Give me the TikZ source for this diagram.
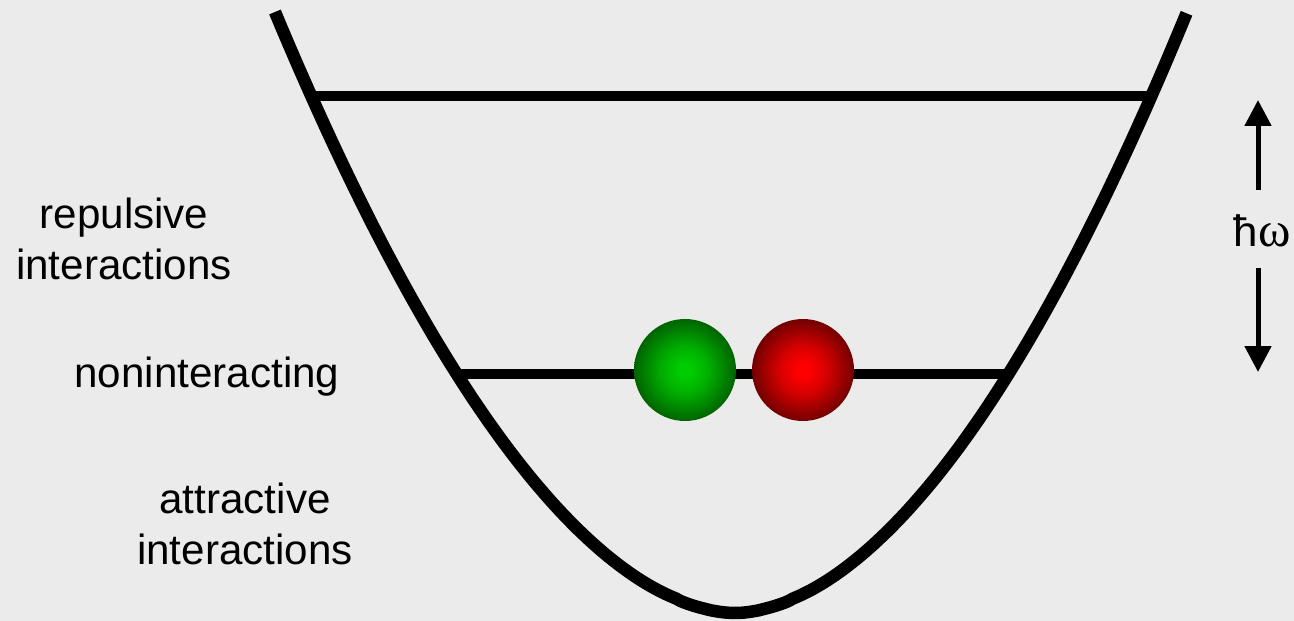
\documentclass[tikz,border=0pt]{standalone}
\usepackage{fontspec}
\setmainfont{Liberation Sans}
\newfontfamily\greekfont{Liberation Serif}
\usepackage{tikz}
\usetikzlibrary{arrows.meta}

\definecolor{bggray}{RGB}{235,235,235}
\definecolor{greenin}{RGB}{0,205,0}
\definecolor{greenmid}{RGB}{0,172,0}
\definecolor{greenout}{RGB}{0,100,0}
\definecolor{redin}{RGB}{255,0,0}
\definecolor{redmid}{RGB}{212,0,0}
\definecolor{redout}{RGB}{115,0,0}
\pgfdeclareradialshading{greenball}{\pgfpointorigin}{color(0bp)=(greenin); color(3bp)=(greenin); color(12bp)=(greenmid); color(25bp)=(greenout); color(50bp)=(greenout)}
\pgfdeclareradialshading{redball}{\pgfpointorigin}{color(0bp)=(redin); color(3bp)=(redin); color(12bp)=(redmid); color(25bp)=(redout); color(50bp)=(redout)}

\begin{document}
\begin{tikzpicture}[
  x=0.02cm, y=-0.02cm,
  pot/.style={line width=0.25cm, black, line join=round},
  level/.style={line width=0.21cm, black},
  ball/.style={circle, minimum size=2.04cm, inner sep=0pt},
  label/.style={align=center, inner sep=0pt, font=\fontsize{24}{29}\selectfont},
  arrow/.style={-{Triangle[width=0.52cm, length=0.52cm]}, line width=0.1cm}
]

% background and page size
\fill[bggray] (0,0) rectangle (1294,621);
\useasboundingbox (0,0) rectangle (1294,621);

% energy levels
\coordinate (upL) at (308,96);
\coordinate (upR) at (1151,96);
\coordinate (lowL) at (455,374);
\coordinate (lowR) at (1005,374);
\draw[level] (upL) -- (upR);
\draw[level] (lowL) -- (lowR);

% trap potential
\draw[pot] plot[domain=1:0.002, samples=80, smooth] ({735-460*\x}, {613-601*\x^1.835})
  -- plot[domain=0.002:1, samples=80, smooth] ({735+452*\x}, {613-601*\x^1.835});

% the two atoms
\node[ball, shading=greenball] (green) at (685,370) {};
\node[ball, shading=redball] (red) at (803,370) {};

% labels
\node[label] (repulsive) at (124,239) {repulsive\\interactions};
\node[label, anchor=base] (nonint) at (207,387) {noninteracting};
\node[label] (attractive) at (245,524) {attractive\\interactions};
\node[label, anchor=base, font=\fontsize{25}{29}\selectfont] (hw) at (1262,247) {ħ{\greekfont\fontsize{28}{29}\selectfont ω}};

% level spacing
\coordinate (upfoot) at (1258,190);
\coordinate (uptip) at (1258,100);
\coordinate (downfoot) at (1258,268);
\coordinate (downtip) at (1258,372);
\draw[arrow] (upfoot) -- (uptip);
\draw[arrow] (downfoot) -- (downtip);

\end{tikzpicture}
\end{document}
